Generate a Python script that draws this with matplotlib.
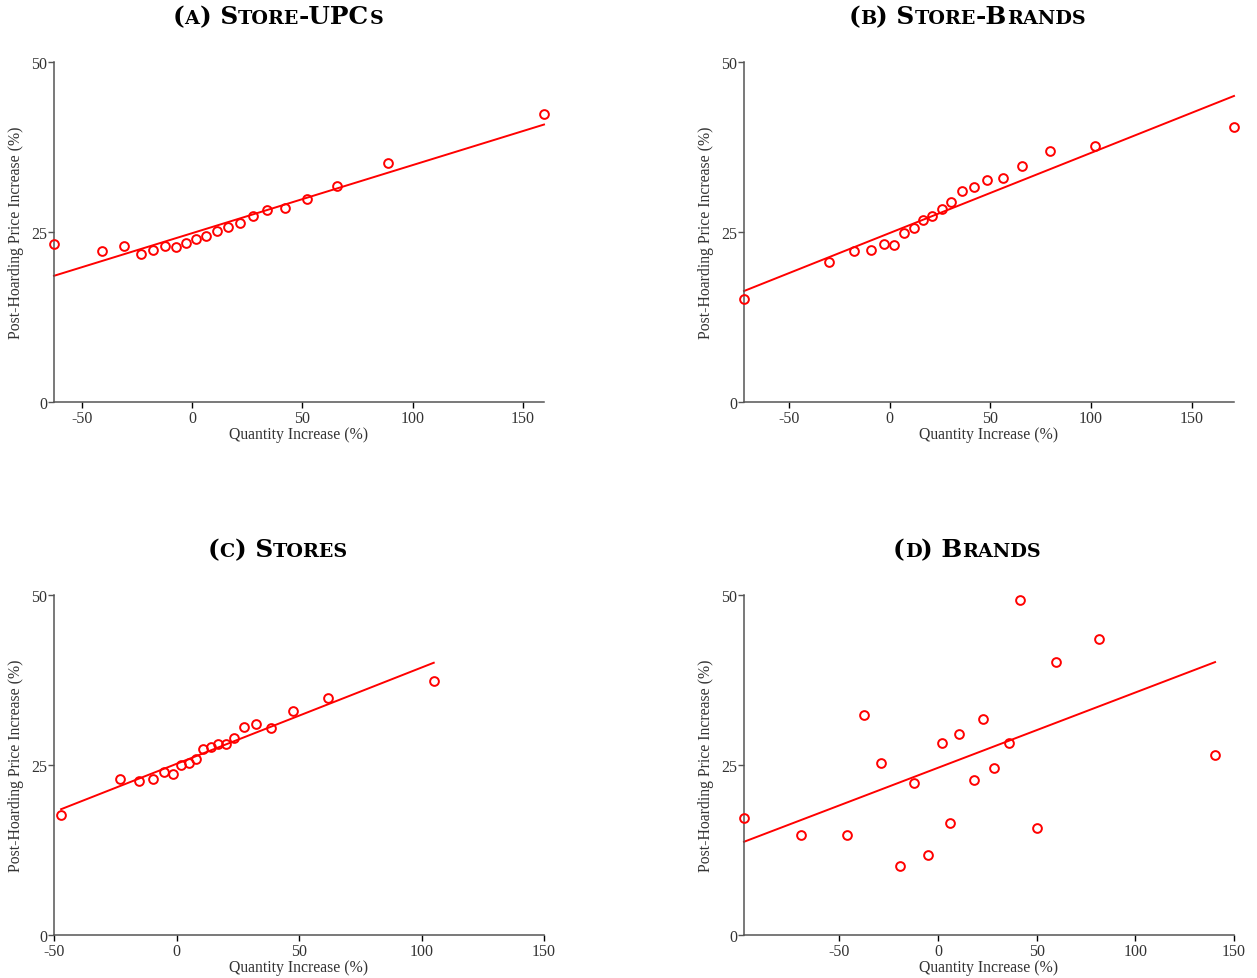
import numpy as np
import matplotlib
matplotlib.use('Agg')
import matplotlib.pyplot as plt

plt.rcParams['font.family'] = 'Liberation Serif'
plt.rcParams['axes.unicode_minus'] = False

# (a) store-UPCs: binned quantity increase vs post-hoarding price increase
upc_x = [-62.5, -40.6, -30.7, -23.3, -17.5, -12.3, -7.4, -2.8, 1.8, 6.5,
         11.3, 16.3, 21.7, 27.5, 34.1, 42.1, 52.3, 65.9, 89.0, 159.5]
upc_y = [23.2, 22.2, 22.9, 21.8, 22.3, 23.0, 22.8, 23.4, 23.9, 24.4,
         25.2, 25.8, 26.3, 27.4, 28.2, 28.5, 29.8, 31.8, 35.1, 42.4]
upc_fit = [24.82, 0.1002]   # intercept, slope

# (b) store-brands
sb_x = [-72.2, -30.0, -17.4, -9.3, -2.9, 2.2, 7.4, 12.0, 16.5, 21.0,
        25.9, 30.7, 36.1, 41.8, 48.5, 56.2, 65.9, 79.4, 101.8, 170.9]
sb_y = [15.1, 20.6, 22.2, 22.3, 23.3, 23.1, 24.9, 25.6, 26.8, 27.4,
        28.4, 29.4, 31.0, 31.6, 32.6, 32.9, 34.7, 36.9, 37.6, 40.4]
sb_fit = [24.84, 0.118]

# (c) stores
st_x = [-47.1, -23.2, -15.4, -9.6, -5.1, -1.3, 1.9, 5.0, 7.9, 10.8,
        13.9, 17.0, 20.0, 23.5, 27.6, 32.3, 38.5, 47.4, 61.7, 105.0]
st_y = [17.7, 22.9, 22.7, 23.0, 23.9, 23.7, 25.0, 25.3, 25.9, 27.3,
        27.7, 28.1, 28.1, 28.9, 30.6, 31.0, 30.5, 32.9, 34.8, 37.4]
st_fit = [25.17, 0.1416]

# (d) brands
br_x = [-98.3, -69.3, -46.0, -37.6, -28.8, -19.4, -12.3, -4.9, 1.8, 5.9,
        10.8, 18.5, 22.7, 28.6, 36.1, 41.4, 50.2, 59.9, 81.4, 140.4]
br_y = [17.2, 14.7, 14.7, 32.4, 25.3, 10.1, 22.4, 11.7, 28.3, 16.5,
        29.5, 22.8, 31.8, 24.6, 28.3, 49.2, 15.8, 40.2, 43.6, 26.5]
br_fit = [24.59, 0.1107]

titles = [
    [("(", 0), ("A", 1), (") S", 0), ("TORE", 1), ("-UPC", 0), ("S", 1)],
    [("(", 0), ("B", 1), (") S", 0), ("TORE", 1), ("-B", 0), ("RANDS", 1)],
    [("(", 0), ("C", 1), (") S", 0), ("TORES", 1)],
    [("(", 0), ("D", 1), (") B", 0), ("RANDS", 1)],
]

W, H = 1257, 979
fig = plt.figure(figsize=(W/100, H/100), dpi=100, facecolor='white')
renderer = fig.canvas.get_renderer()
TFONT = 'DejaVu Serif'

def text_width(s, size):
    # advance width: measure against a marker glyph so side bearings count right
    t = fig.text(0, 0, s + '|', fontsize=size, weight='bold', family=TFONT)
    r = fig.text(0, 0, '|', fontsize=size, weight='bold', family=TFONT)
    w = t.get_window_extent(renderer).width - r.get_window_extent(renderer).width
    t.remove()
    r.remove()
    return w

def smallcaps(xc, yb, parts, big=17.8, small=13.8):
    widths = [text_width(s, small if sm else big) for s, sm in parts]
    x = xc - sum(widths) / 2
    for (s, sm), w in zip(parts, widths):
        fig.text(x / W, 1 - yb / H, s, fontsize=small if sm else big, weight='bold',
                 family=TFONT, va='baseline', ha='left', color='black')
        x += w

def panel(rect, xs, ys, fit, xlim, title, tx, ty):
    ax = fig.add_axes([rect[0]/W, 1 - rect[1]/H, 490/W, 340/H])
    xs = np.array(xs)
    ax.plot(xs, ys, 'o', mfc='none', mec='red', ms=6.3, mew=1.4, clip_on=False, zorder=3)
    lx = np.array([xs.min(), xs.max()])
    ax.plot(lx, fit[0] + fit[1]*lx, color='red', lw=1.4, clip_on=False)
    ax.set_xlim(xlim)
    ax.set_ylim(0, 50)
    ax.set_yticks([0, 25, 50])
    ax.set_xticks([t for t in [-50, 0, 50, 100, 150] if xlim[0] <= t <= xlim[1]])
    for s in ['top', 'right']:
        ax.spines[s].set_visible(False)
    for s in ['left', 'bottom']:
        ax.spines[s].set_color('#555555')
        ax.spines[s].set_linewidth(1.1)
    ax.tick_params(axis='y', length=4, width=1, color='#555555', labelcolor='#333333',
                   labelsize=11.5, pad=1)
    ax.tick_params(axis='x', length=4, width=1, color='black', labelcolor='#333333',
                   labelsize=11.5, pad=2)
    ax.set_xlabel('Quantity Increase (%)', fontsize=11.3, color='#333333', labelpad=0)
    ax.set_ylabel('Post-Hoarding Price Increase (%)', fontsize=11.3, color='#333333',
                  labelpad=5)
    smallcaps(tx, ty, title)
    return ax

panel((54, 403), upc_x, upc_y, upc_fit, (-62.5, 159.5), titles[0], 278, 24)
panel((744, 403), sb_x, sb_y, sb_fit, (-72.2, 170.9), titles[1], 967, 24)
panel((54, 936), st_x, st_y, st_fit, (-50, 150), titles[2], 278, 557)
panel((744, 936), br_x, br_y, br_fit, (-98.3, 150), titles[3], 967, 557)

fig.savefig('out.png', dpi=100)
